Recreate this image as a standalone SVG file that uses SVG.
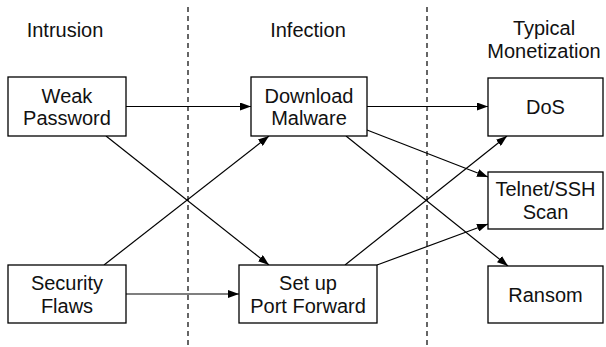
<svg xmlns="http://www.w3.org/2000/svg" width="606" height="347" viewBox="0 0 606 347">
<defs>
<marker id="ah" viewBox="0 0 11 8" refX="11" refY="4" markerWidth="11" markerHeight="8" markerUnits="userSpaceOnUse" orient="auto">
<path d="M0,0 L11,4 L0,8 Z" fill="#000"/>
</marker>
<style>
.box{fill:#fff;stroke:#000;stroke-width:1.3}
text{font-family:"Liberation Sans",Arial,Helvetica,sans-serif;font-size:20px;fill:#111;text-anchor:middle}
.edge{stroke:#000;stroke-width:1.2;fill:none;marker-end:url(#ah)}
.sep{stroke:#000;stroke-width:1.2;stroke-dasharray:5 4;fill:none}
</style>
</defs>
<rect width="606" height="347" fill="#fff"/>
<g id="separators">
<line class="sep" x1="188" y1="7" x2="188" y2="347"/>
<line class="sep" x1="427" y1="7" x2="427" y2="347"/>
</g>
<g id="headers">
<text x="65" y="37">Intrusion</text>
<text x="308" y="37">Infection</text>
<text x="544" y="35">Typical</text>
<text x="544" y="57.5">Monetization</text>
</g>
<g id="connectors">
<line class="edge" x1="126" y1="106.5" x2="251" y2="106.5"/>
<line class="edge" x1="106" y1="136" x2="269" y2="265"/>
<line class="edge" x1="104" y1="265" x2="269" y2="136"/>
<line class="edge" x1="126" y1="294" x2="239" y2="294"/>
<line class="edge" x1="367" y1="106.5" x2="488" y2="106.5"/>
<line class="edge" x1="367" y1="130" x2="488" y2="177"/>
<line class="edge" x1="346" y1="136" x2="508" y2="266"/>
<line class="edge" x1="345" y1="265" x2="507" y2="136"/>
<line class="edge" x1="377" y1="265" x2="488" y2="224"/>
</g>
<g id="weak-password">
<rect class="box" x="8" y="77" width="118" height="59"/>
<text x="67" y="102.5">Weak</text>
<text x="67" y="125">Password</text>
</g>
<g id="security-flaws">
<rect class="box" x="8" y="265" width="118" height="58"/>
<text x="67" y="290">Security</text>
<text x="67" y="312.5">Flaws</text>
</g>
<g id="download-malware">
<rect class="box" x="251" y="77" width="116" height="59"/>
<text x="309" y="102.5">Download</text>
<text x="309" y="125">Malware</text>
</g>
<g id="port-forward">
<rect class="box" x="239" y="265" width="138" height="58"/>
<text x="308" y="290">Set up</text>
<text x="308" y="312.5">Port Forward</text>
</g>
<g id="dos">
<rect class="box" x="488" y="78" width="115" height="58"/>
<text x="545.5" y="114">DoS</text>
</g>
<g id="telnet-ssh">
<rect class="box" x="488" y="172" width="115" height="57"/>
<text x="545.5" y="196">Telnet/SSH</text>
<text x="545.5" y="218.5">Scan</text>
</g>
<g id="ransom">
<rect class="box" x="488" y="266" width="115" height="57"/>
<text x="545.5" y="301.5">Ransom</text>
</g>
</svg>
